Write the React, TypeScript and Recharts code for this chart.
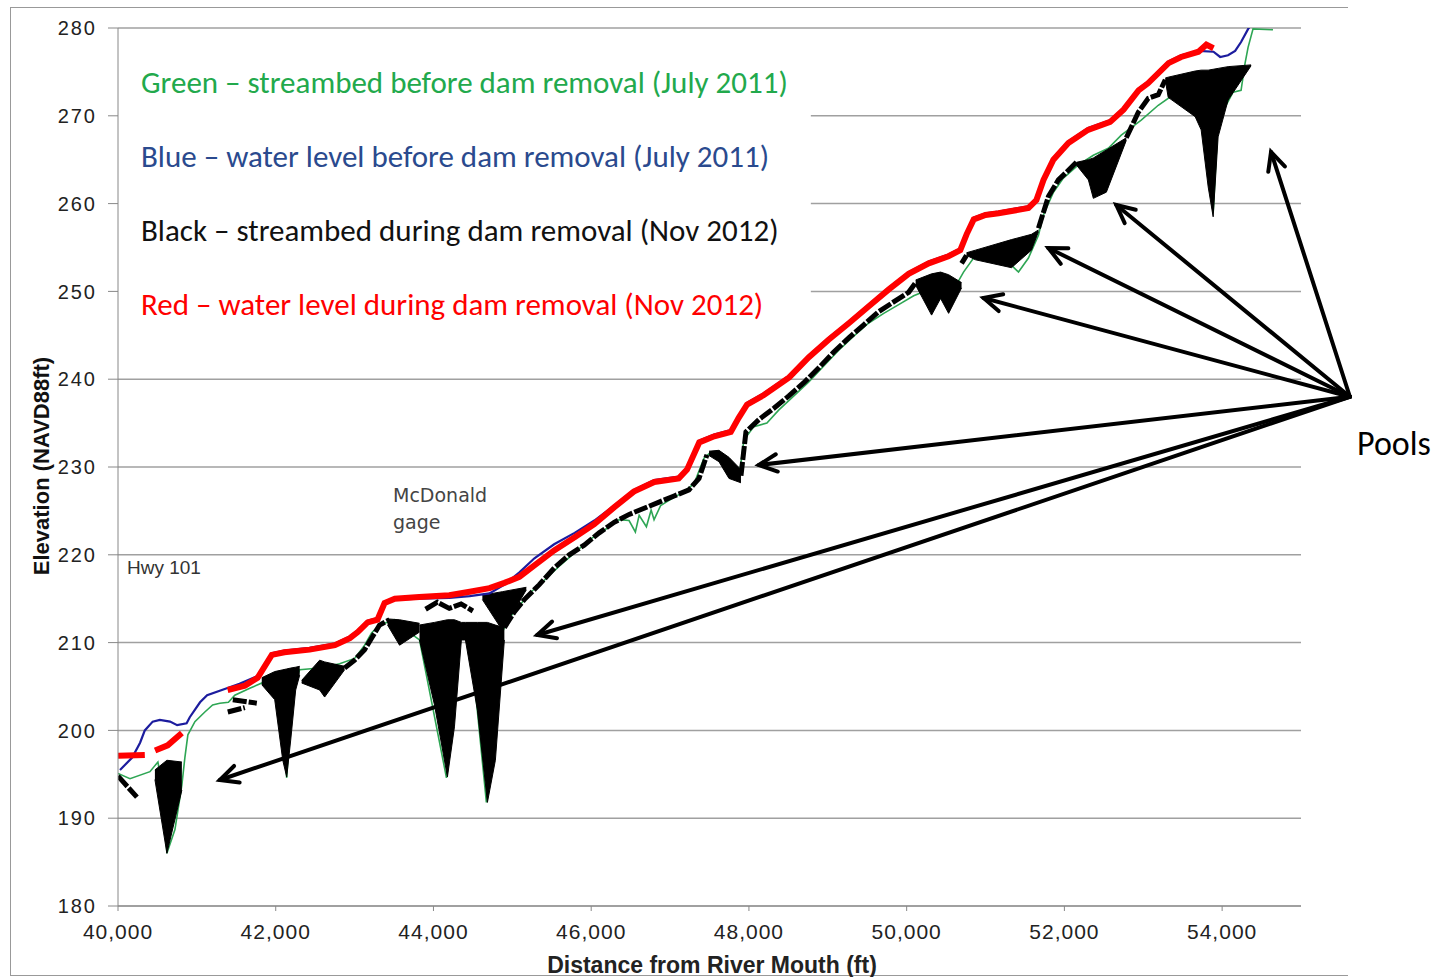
import React from "react";
import {
  ComposedChart,
  Line,
  Area,
  XAxis,
  YAxis,
  CartesianGrid,
  ReferenceLine,
  ReferenceArea,
} from "recharts";

type Pt = [number, number | null];
type Rg = [number, number, number];

const xTicks = [40000, 42000, 44000, 46000, 48000, 50000, 52000, 54000];
const yTicks = [180, 190, 200, 210, 220, 230, 240, 250, 260, 270, 280];

// red - water level during dam removal (Nov 2012)
const waterLevel2012: Pt[] = [
  [40000, 197.1], [40340, 197.2], [40400, null],
  [40470, 197.7], [40630, 198.3], [40810, 199.7], [40900, null],
  [41390, 204.6], [41610, 205.1], [41770, 206.0], [41860, 207.3], [41950, 208.6],
  [42110, 208.9], [42430, 209.2], [42750, 209.7], [42940, 210.5], [43040, 211.2],
  [43165, 212.3], [43290, 212.6], [43380, 214.5], [43510, 215.0], [43820, 215.2],
  [44200, 215.4], [44460, 215.8], [44710, 216.2], [44900, 216.8], [45090, 217.5],
  [45280, 218.8], [45530, 220.5], [45790, 222.0], [46040, 223.5], [46290, 225.4],
  [46540, 227.2], [46800, 228.3], [47110, 228.7], [47215, 229.7], [47370, 232.8],
  [47560, 233.5], [47770, 234.0], [47870, 235.6], [47975, 237.1], [48190, 238.2],
  [48510, 240.2], [48760, 242.5], [49010, 244.5], [49270, 246.4], [49520, 248.3],
  [49770, 250.2], [50025, 252.0], [50280, 253.2], [50530, 254.0], [50680, 254.7],
  [50760, 256.5], [50850, 258.2], [51000, 258.7], [51165, 258.9], [51545, 259.5],
  [51645, 260.4], [51735, 262.7], [51860, 265.0], [52050, 266.9], [52300, 268.4],
  [52580, 269.3], [52750, 270.7], [52940, 272.9], [53060, 273.7], [53320, 276.0],
  [53480, 276.7], [53700, 277.3], [53800, 278.1], [53890, 277.7],
];

// blue - water level before dam removal (July 2011)
const waterLevel2011: Pt[] = [
  [40025, 195.5], [40180, 196.9], [40280, 198.6], [40340, 200.0], [40440, 201.0],
  [40530, 201.2], [40660, 201.0], [40750, 200.6], [40870, 200.8], [40910, 201.5],
  [41040, 203.2], [41130, 204.0], [41380, 204.8], [41540, 205.3], [41770, 206.2],
  [41860, 207.5], [41950, 208.8], [42110, 209.1], [42430, 209.4], [42750, 209.9],
  [42940, 210.7], [43040, 211.4], [43165, 212.5], [43290, 212.8], [43380, 214.6],
  [43510, 214.9], [43820, 215.0], [44200, 215.1], [44460, 215.3], [44710, 215.6],
  [44900, 216.6], [45090, 218.0], [45280, 219.6], [45530, 221.2], [45790, 222.5],
  [46040, 223.9], [46290, 225.6], [46540, 227.4], [46800, 228.5], [47110, 228.9],
  [47215, 229.9], [47370, 233.0], [47560, 233.7], [47770, 234.2], [47870, 235.8],
  [47975, 237.3], [48190, 238.4], [48510, 240.4], [48760, 242.7], [49010, 244.7],
  [49270, 246.6], [49520, 248.5], [49770, 250.4], [50025, 252.2], [50280, 253.4],
  [50530, 254.2], [50680, 254.9], [50760, 256.7], [50850, 258.4], [51000, 258.9],
  [51165, 259.1], [51545, 259.7], [51645, 260.6], [51735, 262.9], [51860, 265.2],
  [52050, 267.1], [52300, 268.6], [52580, 269.5], [52750, 270.9], [52940, 273.1],
  [53060, 273.9], [53320, 276.2], [53480, 276.9], [53700, 277.4], [53890, 277.3],
  [53975, 276.7], [54075, 276.9], [54165, 277.4], [54240, 278.4], [54330, 279.9],
  [54390, 280.6],
];

// green - streambed before dam removal (July 2011)
const streambed2011: Pt[] = [
  [40000, 195.1], [40152, 194.5], [40405, 195.3], [40506, 196.4], [40570, 193.2],
  [40620, 186.0], [40722, 188.7], [40810, 193.8], [40848, 196.9], [40886, 199.5],
  [40975, 201.0], [41101, 202.1], [41200, 202.9], [41291, 203.1], [41400, 203.2],
  [41481, 204.0], [41671, 204.8], [41823, 205.4], [41949, 206.3], [42051, 204.6],
  [42139, 194.6], [42215, 204.8], [42304, 206.9], [42557, 207.1], [42810, 207.6],
  [43000, 208.2], [43127, 209.7], [43215, 211.1], [43316, 212.0], [43506, 212.6],
  [43570, 212.0], [43823, 210.3], [44165, 194.6], [44329, 210.3], [44456, 211.4],
  [44671, 191.8], [44835, 210.3], [44899, 211.7], [44962, 212.8], [45089, 214.2],
  [45215, 215.6], [45405, 217.1], [45595, 218.7], [45785, 220.2], [45975, 221.7],
  [46165, 222.8], [46354, 224.0], [46480, 223.9], [46560, 222.6], [46608, 224.5],
  [46700, 223.2], [46760, 225.1], [46797, 224.0], [46880, 225.6], [46987, 226.2],
  [47177, 227.2], [47304, 228.1],
  [47430, 231.0], [47519, 231.7], [47684, 230.8], [47873, 228.7], [47937, 233.1],
  [48063, 234.6], [48228, 235.0], [48380, 236.5], [48570, 238.1], [48759, 239.7],
  [48949, 241.5], [49139, 243.3], [49329, 244.9], [49519, 246.4], [49709, 247.5],
  [49899, 248.5], [50089, 249.5], [50278, 250.2], [50468, 249.0], [50595, 250.2],
  [50721, 252.2], [50848, 253.8], [51038, 254.9], [51165, 254.7], [51291, 253.3],
  [51418, 252.2], [51544, 253.8], [51671, 256.4], [51734, 258.7], [51861, 261.3],
  [51987, 262.9], [52177, 264.4], [52367, 265.5], [52557, 266.3], [52721, 267.8],
  [52974, 269.5], [53190, 271.2], [53380, 272.4], [53633, 272.7], [53759, 270.7],
  [53886, 258.9], [53949, 269.5], [54139, 272.7], [54240, 272.9], [54291, 276.0],
  [54329, 277.8], [54392, 279.9], [54645, 279.8],
];

// black - streambed during dam removal (Nov 2012), line part
const streambed2012: Pt[] = [
  [40000, 194.8], [40089, 193.9], [40240, 192.4], [40300, null],
  [41392, 202.1], [41608, 202.6], [41700, null],
  [41456, 203.5], [41760, 203.1], [41800, null],
  [42873, 207.1], [43000, 208.0], [43127, 209.2], [43215, 210.5], [43316, 212.0],
  [43443, 212.6], [43500, null],
  [43900, 213.8], [44050, 214.6], [44200, 213.9], [44350, 214.4], [44500, 213.6],
  [44600, null],
  [44899, 211.7], [45025, 213.5], [45152, 214.9], [45342, 216.6], [45532, 218.5],
  [45722, 220.0], [45911, 221.1], [46101, 222.5], [46291, 223.7], [46481, 224.6],
  [46671, 225.3], [46861, 226.0], [47051, 226.7], [47240, 227.4], [47367, 228.7],
  [47468, 231.4], [47500, null],
  [47899, 229.0], [47962, 234.0], [48126, 235.4], [48316, 236.7], [48506, 238.1],
  [48696, 239.6], [48886, 241.3], [49076, 243.1], [49266, 244.7], [49456, 246.2],
  [49646, 247.7], [49835, 248.8], [50025, 249.9], [50114, 251.0], [50200, null],
  [50696, 253.2], [50759, 254.1], [50800, null],
  [51671, 257.2], [51797, 260.8], [51924, 262.7], [52051, 263.8], [52152, 264.7],
  [52200, null],
  [52785, 267.5], [52937, 270.4], [53063, 272.0], [53190, 272.4], [53279, 274.1],
];

// black pools: [distance, bottom, top]
const pool40600: Rg[] = [
  [40468, 194.4, 195.5], [40620, 186.0, 196.6], [40810, 193.2, 196.4],
];
const pool42100: Rg[] = [
  [41823, 205.2, 206.0], [41987, 203.5, 206.7], [42089, 196.6, 206.9],
  [42139, 194.7, 207.0], [42190, 198.9, 207.1], [42253, 204.6, 207.2],
  [42304, 206.3, 207.3],
];
const pool42500: Rg[] = [
  [42329, 205.4, 205.7], [42557, 204.6, 208.0], [42620, 203.8, 207.8],
  [42873, 206.9, 207.3],
];
const pool43500: Rg[] = [
  [43418, 212.0, 212.7], [43570, 209.7, 212.6], [43823, 211.2, 212.2],
];
const pool44400: Rg[] = [
  [43823, 210.3, 212.0], [44013, 202.9, 212.3], [44177, 194.7, 212.6],
  [44266, 200.4, 212.6], [44354, 210.3, 212.3], [44405, 210.3, 212.3],
  [44557, 202.3, 212.3], [44684, 191.8, 212.3], [44785, 196.6, 212.0],
  [44899, 210.3, 211.7],
];
const pool44900: Rg[] = [
  [44620, 214.9, 215.4], [44873, 211.4, 215.8], [45177, 216.0, 216.3],
];
const pool47700: Rg[] = [
  [47494, 231.3, 231.8], [47620, 230.6, 231.9], [47747, 228.7, 231.1],
  [47899, 228.2, 229.7],
];
const pool50400: Rg[] = [
  [50114, 250.7, 251.3], [50316, 247.3, 252.0], [50430, 249.2, 252.2],
  [50532, 247.5, 251.9], [50696, 250.4, 251.0],
];
const pool51300: Rg[] = [
  [50759, 254.1, 254.4], [50873, 253.6, 254.7], [51329, 252.7, 255.9],
  [51582, 254.7, 256.5], [51671, 256.8, 257.0],
];
const pool52400: Rg[] = [
  [52152, 264.4, 264.7], [52304, 262.7, 265.0], [52367, 260.6, 265.2],
  [52532, 261.3, 266.1], [52785, 267.2, 267.5],
];
const pool54000: Rg[] = [
  [53279, 274.1, 274.3], [53316, 272.1, 274.4], [53658, 269.9, 275.1],
  [53734, 268.4, 275.2], [53823, 261.9, 275.2], [53886, 258.5, 275.3],
  [53949, 267.6, 275.4], [54076, 271.8, 275.6], [54367, 275.7, 275.8],
];
const pools = [
  pool40600, pool42100, pool42500, pool43500, pool44400, pool44900,
  pool47700, pool50400, pool51300, pool52400, pool54000,
];

// arrows from the "Pools" note to each pool
const arrowFrom = { x: 55620, y: 238.0 };
const arrowTips: [number, number][] = [
  [41291, 194.35], [45316, 210.87], [48126, 230.23], [50975, 249.25],
  [51797, 254.94], [52658, 259.84], [54620, 265.88],
];

const toLine = (pts: Pt[]) => pts.map(([x, y]) => ({ x, y }));
const toRange = (pts: Rg[]) => pts.map(([x, lo, hi]) => ({ x, r: [lo, hi] }));

const fmt = (v: number) => v.toLocaleString("en-US");

function Arrow(props: any) {
  const { x1, y1, x2, y2 } = props;
  const a = Math.atan2(y2 - y1, x2 - x1);
  const L = 20;
  const s = 0.45;
  const hx1 = x2 - L * Math.cos(a - s);
  const hy1 = y2 - L * Math.sin(a - s);
  const hx2 = x2 - L * Math.cos(a + s);
  const hy2 = y2 - L * Math.sin(a + s);
  return (
    <g stroke="#000" strokeWidth={4} fill="none" strokeLinecap="round">
      <line x1={x1} y1={y1} x2={x2} y2={y2} />
      <polyline points={`${hx1},${hy1} ${x2},${y2} ${hx2},${hy2}`} />
    </g>
  );
}

const calibri = "Carlito, Lato, 'Open Sans', sans-serif";
const narrow = "'Liberation Sans Narrow', 'Arial Narrow', 'Liberation Sans', sans-serif";

const legendRows = [
  { text: "Green \u2013 streambed before dam removal (July 2011)", color: "#22a94c", top: 66 },
  { text: "Blue \u2013 water level before dam removal (July 2011)", color: "#2a4a8e", top: 140 },
  { text: "Black \u2013 streambed during dam removal (Nov 2012)", color: "#111", top: 214 },
  { text: "Red \u2013 water level during dam removal (Nov 2012)", color: "#ff0000", top: 288 },
];

export default function App() {
  return (
    <div
      style={{
        position: "absolute",
        left: 0,
        top: 0,
        width: 1448,
        height: 977,
        background: "#fff",
        overflow: "hidden",
      }}
    >
      <div
        style={{
          position: "absolute",
          left: 10,
          top: 7,
          width: 1337,
          height: 967,
          borderTop: "1.5px solid #999",
          borderLeft: "1.5px solid #999",
          borderBottom: "1.5px solid #999",
        }}
      />
      <div style={{ position: "absolute", left: 0, top: 0 }}>
        <ComposedChart
          width={1448}
          height={977}
          margin={{ top: 28, right: 147, bottom: 41, left: 58 }}
        >
          <CartesianGrid vertical={false} stroke="#a0a0a0" strokeWidth={1.5} />
          <XAxis
            type="number"
            dataKey="x"
            domain={[40000, 55000]}
            ticks={xTicks}
            tickFormatter={fmt}
            allowDataOverflow
            height={30}
            stroke="#888"
            tickSize={5}
            tickMargin={13}
            tick={{ fill: "#222", fontSize: 21, fontFamily: "Liberation Sans", letterSpacing: 1 }}
          />
          <YAxis
            type="number"
            domain={[180, 280]}
            ticks={yTicks}
            allowDataOverflow
            width={60}
            stroke="#888"
            tickSize={10}
            tickMargin={11}
            tick={{ fill: "#222", fontSize: 20, fontFamily: "Liberation Sans", letterSpacing: 2 }}
          />
          <ReferenceArea
            x1={40000}
            x2={48785}
            y1={244.5}
            y2={278.6}
            fill="#fff"
            fillOpacity={1}
            stroke="none"
          />
          <Area
            data={toLine(streambed2011)}
            dataKey="y"
            stroke="#2ea654"
            strokeWidth={1.6}
            fill="none"
            fillOpacity={0}
            dot={false}
            activeDot={false}
            isAnimationActive={false}
            type="linear"
          />
          {pools.map((p, i) => (
            <Area
              key={i}
              data={toRange(p)}
              dataKey="r"
              stroke="#000"
              strokeWidth={1}
              fill="#000"
              fillOpacity={1}
              dot={false}
              activeDot={false}
              isAnimationActive={false}
              type="linear"
            />
          ))}
          <Line
            data={toLine(streambed2012)}
            dataKey="y"
            stroke="#000"
            strokeWidth={5}
            strokeDasharray="14 2"
            dot={false}
            activeDot={false}
            isAnimationActive={false}
            type="linear"
          />
          <Line
            data={toLine(waterLevel2011)}
            dataKey="y"
            stroke="#1c1c9e"
            strokeWidth={2.2}
            dot={false}
            activeDot={false}
            isAnimationActive={false}
            type="linear"
          />
          <Line
            data={toLine(waterLevel2012)}
            dataKey="y"
            stroke="#ff0000"
            strokeWidth={6}
            dot={false}
            activeDot={false}
            isAnimationActive={false}
            type="linear"
          />
          {arrowTips.map(([x, y], i) => (
            <ReferenceLine
              key={i}
              segment={[arrowFrom, { x, y }]}
              ifOverflow="visible"
              shape={Arrow}
            />
          ))}
        </ComposedChart>
      </div>

      {legendRows.map((r) => (
        <div
          key={r.text}
          style={{
            position: "absolute",
            left: 141,
            top: r.top,
            fontFamily: calibri,
            fontSize: 31,
            lineHeight: "33px",
            color: r.color,
            whiteSpace: "nowrap",
          }}
        >
          {r.text}
        </div>
      ))}

      <div
        style={{
          position: "absolute",
          left: 393,
          top: 482,
          fontFamily: "'DejaVu Sans', sans-serif",
          fontSize: 19,
          lineHeight: "27px",
          color: "#444",
        }}
      >
        McDonald
        <br />
        gage
      </div>
      <div
        style={{
          position: "absolute",
          left: 127,
          top: 557,
          fontFamily: "'Liberation Sans', sans-serif",
          fontSize: 19,
          lineHeight: "22px",
          color: "#333",
        }}
      >
        Hwy 101
      </div>
      <div
        style={{
          position: "absolute",
          left: 1357,
          top: 424,
          fontFamily: calibri,
          fontSize: 34,
          lineHeight: "40px",
          color: "#000",
        }}
      >
        Pools
      </div>
      <div
        style={{
          position: "absolute",
          left: 42,
          top: 466,
          transform: "translate(-50%, -50%) rotate(-90deg)",
          fontFamily: narrow,
          fontWeight: 700,
          fontSize: 22,
          whiteSpace: "nowrap",
          color: "#111",
        }}
      >
        Elevation (NAVD88ft)
      </div>
      <div
        style={{
          position: "absolute",
          left: 712,
          top: 965,
          transform: "translate(-50%, -50%)",
          fontFamily: narrow,
          fontWeight: 700,
          fontSize: 23,
          whiteSpace: "nowrap",
          color: "#222",
        }}
      >
        Distance from River Mouth (ft)
      </div>
    </div>
  );
}
